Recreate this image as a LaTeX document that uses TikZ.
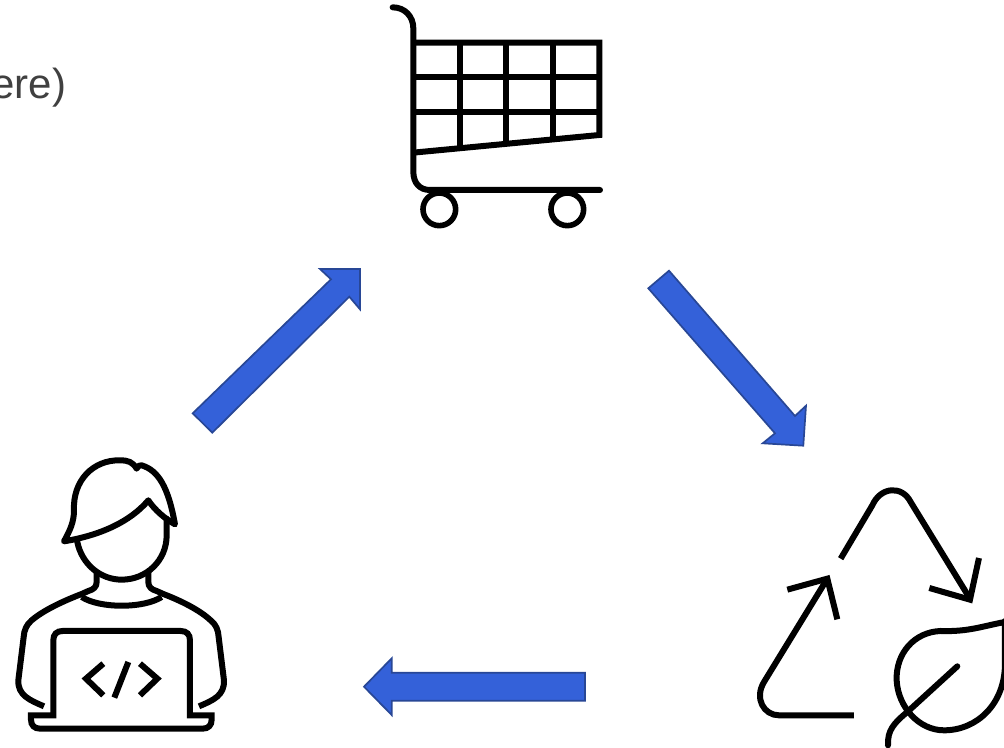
\documentclass[tikz,border=0pt]{standalone}
\usepackage{fontspec}
\setmainfont{Liberation Sans}
\definecolor{arrowfill}{HTML}{3461D9}
\definecolor{arrowedge}{HTML}{284796}
\definecolor{labeltext}{HTML}{404040}
\tikzset{
  blockarrow/.style={fill=arrowfill,draw=arrowedge,line width=1.7pt,line join=miter},
  icon/.style={draw=black,line width=6pt,fill=none},
  iconround/.style={icon,line cap=round,line join=round},
  iconbutt/.style={icon,line cap=butt,line join=miter},
  lab/.style={inner sep=0pt,outer sep=0pt,text=labeltext,font=\fontsize{42}{50}\selectfont}
}
\begin{document}
\begin{tikzpicture}[x=1pt,y=-1pt]
\clip (0,0) rectangle (1004,747);
\fill[white] (0,0) rectangle (1004,747);
% label
\node[lab,anchor=base east] (cutlabel) at (66,98) {ere)};
% block arrows
\draw[blockarrow] (192.7,413.3) -- (331,279.3) -- (320,269) -- (360,269) -- (360,309.3) -- (349.3,296.7) -- (212.3,432.7) -- cycle;
\draw[blockarrow] (669,270.7) -- (795,416) -- (806,405.7) -- (803.3,445.7) -- (762.7,443.3) -- (775,433.3) -- (648.3,288.3) -- cycle;
\draw[blockarrow] (585,672.7) -- (391.7,672.7) -- (391.7,658.3) -- (364,686.7) -- (391.7,715) -- (391.7,700.7) -- (585,700.7) -- cycle;
% cart
\begin{scope}[shift={(370,0)},x=0.3333pt,y=-0.3333pt]
\draw[iconround] (68,22) .. controls (105,22) and (130,50) .. (130,85) -- (130,515) .. controls (130,550) and (150,570) .. (180,570) -- (690,570);
\draw[iconbutt] (130,128) -- (688,128) -- (688,405) -- (130,458);
\draw[iconbutt] (130,232) -- (688,232);
\draw[iconbutt] (130,337) -- (688,337);
\draw[iconbutt] (270,128) -- (270,445);
\draw[iconbutt] (409,128) -- (409,432);
\draw[iconbutt] (549,128) -- (549,418);
\draw[icon,line width=5.6pt] (208,628) circle (49);
\draw[icon,line width=5.6pt] (592,628) circle (49);
\end{scope}
% developer
\begin{scope}[shift={(0,447)},x=0.3333pt,y=-0.3333pt]
\draw[iconround] (192,283) .. controls (210,250) and (222,225) .. (222,190) .. controls (218,100) and (280,38) .. (360,40) .. controls (385,40) and (398,45) .. (410,65) .. controls (415,55) and (420,55) .. (425,55) .. controls (475,70) and (505,120) .. (525,232) .. controls (495,215) and (465,190) .. (445,160) .. controls (390,225) and (300,265) .. (192,283) -- cycle;
\draw[iconround] (232,285) .. controls (245,350) and (300,398) .. (365,398) .. controls (440,398) and (500,340) .. (500,265) -- (500,215);
\draw[iconbutt] (290,375) -- (290,405) .. controls (290,420) and (280,428) .. (265,432) -- (245,441) .. controls (190,462) and (130,490) .. (95,520) .. controls (80,532) and (72,550) .. (71,570) -- (55,700) .. controls (53,745) and (90,760) .. (132,778);
\draw[iconbutt] (445,375) -- (445,405) .. controls (445,420) and (455,428) .. (470,432) -- (490,441) .. controls (545,462) and (600,490) .. (632,520) .. controls (648,532) and (655,550) .. (656,570) -- (672,700) .. controls (674,745) and (640,760) .. (597,778);
\draw[iconbutt] (245,450) .. controls (300,485) and (430,485) .. (485,450);
\draw[iconbutt] (160,805) -- (160,580) .. controls (160,562) and (170,552) .. (188,552) -- (542,552) .. controls (560,552) and (570,562) .. (570,580) -- (570,805) -- (635,805) -- (635,818) .. controls (635,835) and (625,845) .. (608,845) -- (120,845) .. controls (103,845) and (93,835) .. (93,818) -- (93,805) -- cycle;
\draw[iconbutt] (310,650) -- (258,695) -- (310,745);
\draw[iconbutt] (385,645) -- (343,752);
\draw[iconbutt] (420,650) -- (472,695) -- (420,745);
\end{scope}
% recycle and leaf
\begin{scope}[shift={(744,477)},x=0.3333pt,y=-0.3333pt]
\draw[iconbutt] (290,245) -- (385,85) .. controls (410,28) and (475,25) .. (500,75) -- (678,365);
\draw[iconbutt] (705,243) -- (678,368) -- (556,333);
\draw[iconbutt] (330,715) -- (105,715) .. controls (60,715) and (30,665) .. (60,615) -- (250,305);
\draw[iconbutt] (130,338) -- (250,305) -- (280,427);
\draw[iconround] (800,432) .. controls (720,445) and (680,465) .. (590,462) .. controls (510,465) and (455,530) .. (458,610) .. controls (462,690) and (525,760) .. (600,760) .. controls (700,760) and (783,680) .. (783,560) -- (783,432);
\draw[iconround] (640,568) -- (490,705) .. controls (450,738) and (430,760) .. (432,805);
\end{scope}
\end{tikzpicture}
\end{document}
